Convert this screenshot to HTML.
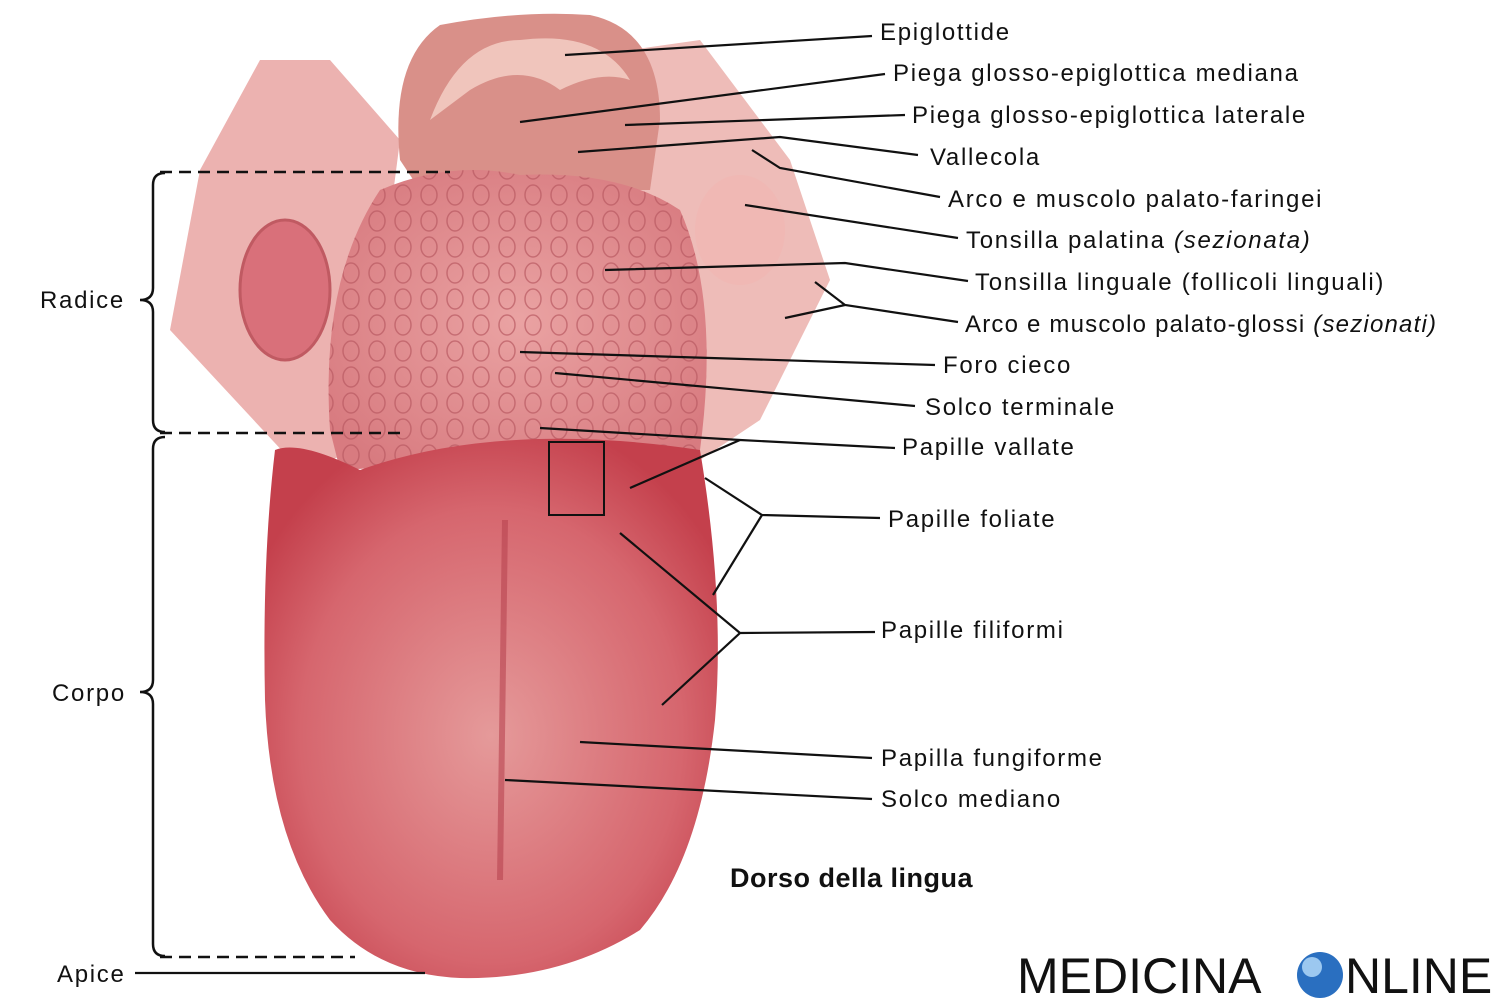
<!DOCTYPE html>
<html><head><meta charset="utf-8"><style>
html,body{margin:0;padding:0;background:#fff;width:1500px;height:999px;overflow:hidden}
svg text{font-family:"Liberation Sans",sans-serif;fill:#111}
</style></head><body>
<svg width="1500" height="999" viewBox="0 0 1500 999" xmlns="http://www.w3.org/2000/svg">
<defs>
<radialGradient id="tg" cx="50%" cy="55%" r="60%">
<stop offset="0" stop-color="#e59a9a"/><stop offset="0.7" stop-color="#d6666e"/><stop offset="1" stop-color="#c4404c"/>
</radialGradient>
<radialGradient id="rg" cx="50%" cy="50%" r="60%">
<stop offset="0" stop-color="#eaa3a3"/><stop offset="1" stop-color="#d87b80"/>
</radialGradient>
<pattern id="pap" width="26" height="26" patternUnits="userSpaceOnUse">
<ellipse cx="13" cy="13" rx="8" ry="10" fill="none" stroke="#b95a62" stroke-width="1.5"/>
</pattern>
</defs>
<path d="M170,330 L200,170 L260,60 L330,60 L400,140 L360,450 L300,470 Z" fill="#ecb2b0"/>
<path d="M830,280 L790,160 L700,40 L630,50 L640,200 L700,460 L760,420 Z" fill="#eebcb8"/>
<path d="M400,160 Q390,60 440,25 Q520,10 590,15 Q660,30 660,120 L650,190 L420,190 Z" fill="#d99089"/>
<path d="M430,120 Q460,40 520,40 Q600,30 630,80 Q600,70 560,90 Q520,60 470,90 Z" fill="#f0c5bc"/>
<ellipse cx="285" cy="290" rx="45" ry="70" fill="#d9707a" stroke="#c05a62" stroke-width="3"/>
<ellipse cx="740" cy="230" rx="45" ry="55" fill="#f0b8b4"/>
<path d="M330,430 Q320,280 380,190 Q450,160 520,175 Q620,170 680,210 Q720,300 700,450 L340,470 Z" fill="url(#rg)"/>
<path d="M330,430 Q320,280 380,190 Q450,160 520,175 Q620,170 680,210 Q720,300 700,450 L340,470 Z" fill="url(#pap)" opacity="0.7"/>
<path d="M275,450 Q300,440 360,470 Q500,420 700,450 Q725,600 715,720 Q700,860 640,930 Q560,980 460,978 Q380,975 330,920 Q270,840 265,700 Q262,560 275,450 Z" fill="url(#tg)"/>
<line x1="505" y1="520" x2="500" y2="880" stroke="#b84450" stroke-width="6" opacity="0.6"/>
<g stroke="#111" stroke-width="2.5" fill="none">
<line x1="160" y1="172" x2="450" y2="172" stroke-dasharray="12,7"/>
<line x1="160" y1="433" x2="400" y2="433" stroke-dasharray="12,7"/>
<line x1="160" y1="957" x2="355" y2="957" stroke-dasharray="12,7"/>
<path d="M165,173 Q153,173 153,185 L153,288 Q153,300 140,300 Q153,300 153,312 L153,420 Q153,432 165,432"/>
<path d="M165,437 Q153,437 153,449 L153,680 Q153,692 140,692 Q153,692 153,704 L153,944 Q153,956 165,956"/>
</g>
<rect x="549" y="442" width="55" height="73" fill="none" stroke="#111" stroke-width="2"/>
<g stroke="#111" stroke-width="2.2" fill="none">
<line x1="565" y1="55" x2="872" y2="36"/>
<line x1="520" y1="122" x2="885" y2="74"/>
<line x1="625" y1="125" x2="905" y2="115"/>
<polyline points="578,152 780,137 918,155"/>
<polyline points="752,150 780,168 940,197"/>
<line x1="745" y1="205" x2="958" y2="238"/>
<polyline points="605,270 845,263 968,281"/>
<polyline points="815,282 845,305 958,322"/>
<line x1="785" y1="318" x2="845" y2="305"/>
<line x1="520" y1="352" x2="935" y2="365"/>
<line x1="555" y1="373" x2="915" y2="406"/>
<polyline points="540,428 740,440 895,448"/>
<line x1="630" y1="488" x2="740" y2="440"/>
<polyline points="705,478 762,515 880,518"/>
<line x1="762" y1="515" x2="713" y2="595"/>
<polyline points="620,533 740,633 875,632"/>
<line x1="740" y1="633" x2="662" y2="705"/>
<line x1="580" y1="742" x2="872" y2="758"/>
<line x1="505" y1="780" x2="872" y2="799"/>
<line x1="135" y1="973" x2="425" y2="973"/>
</g>
<g font-size="24" letter-spacing="1.7">
<text x="880" y="40">Epiglottide</text>
<text x="893" y="81">Piega glosso-epiglottica mediana</text>
<text x="912" y="123">Piega glosso-epiglottica laterale</text>
<text x="930" y="165">Vallecola</text>
<text x="948" y="207">Arco e muscolo palato-faringei</text>
<text x="966" y="248">Tonsilla palatina <tspan font-style="italic">(sezionata)</tspan></text>
<text x="975" y="290">Tonsilla linguale (follicoli linguali)</text>
<text x="965" y="332" letter-spacing="1.2">Arco e muscolo palato-glossi <tspan font-style="italic">(sezionati)</tspan></text>
<text x="943" y="373">Foro cieco</text>
<text x="925" y="415">Solco terminale</text>
<text x="902" y="455">Papille vallate</text>
<text x="888" y="527">Papille foliate</text>
<text x="881" y="638">Papille filiformi</text>
<text x="881" y="766">Papilla fungiforme</text>
<text x="881" y="807">Solco mediano</text>
<text x="40" y="308">Radice</text>
<text x="52" y="701">Corpo</text>
<text x="57" y="982">Apice</text>
</g>
<text x="730" y="887" font-size="27" font-weight="bold" letter-spacing="0.5">Dorso della lingua</text>
<text x="1017" y="993" font-size="50" fill="#222">MEDICINA</text>
<circle cx="1320" cy="975" r="23" fill="#2a6fc0"/>
<circle cx="1312" cy="967" r="10" fill="#9cc8f0"/>
<text x="1345" y="993" font-size="50" fill="#222">NLINE</text>
</svg>
</body></html>
